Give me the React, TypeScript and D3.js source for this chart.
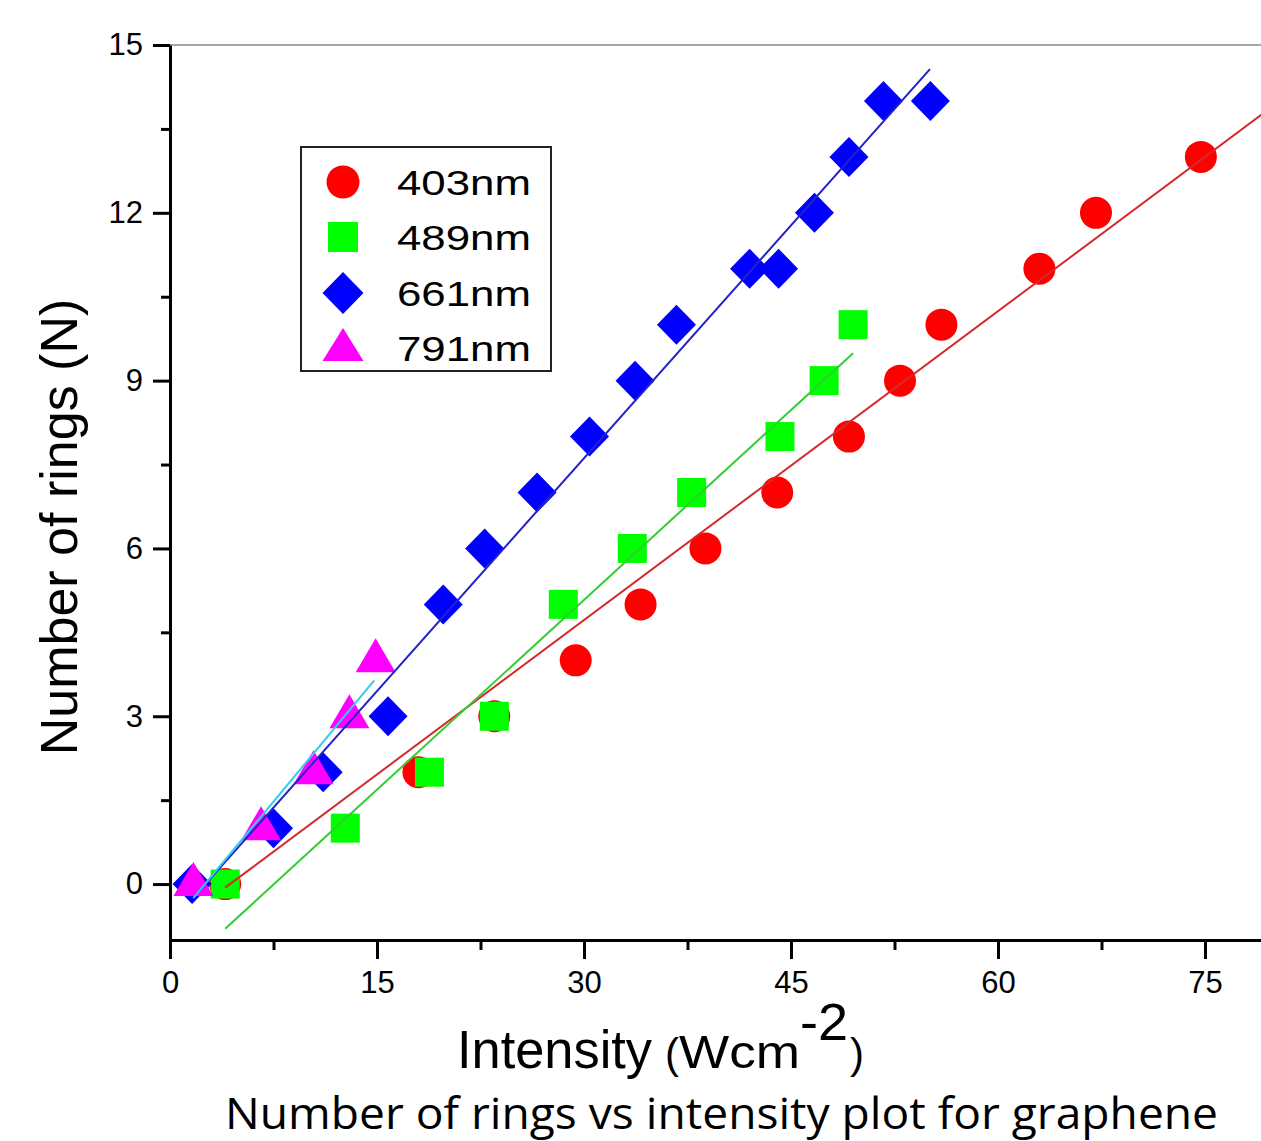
import React, { useEffect, useRef } from 'react';
import * as d3 from 'd3';

// intensity (W/cm^2) vs number of rings
const red403 = [
  [4.0, 0], [18.0, 2], [23.5, 3], [29.4, 4], [34.1, 5], [38.8, 6], [44.0, 7],
  [49.2, 8], [52.9, 9], [55.9, 10], [63.0, 11], [67.1, 12], [74.7, 13]
];
const green489 = [
  [4.0, 0], [12.7, 1], [18.8, 2], [23.5, 3], [28.5, 5], [33.5, 6], [37.8, 7],
  [44.2, 8], [47.4, 9], [49.5, 10]
];
const blue661 = [
  [1.6, 0], [7.5, 1], [11.1, 2], [15.8, 3], [19.8, 5], [22.8, 6], [26.6, 7],
  [30.4, 8], [33.7, 9], [36.7, 10], [42.0, 11], [44.1, 11], [46.7, 12],
  [49.2, 13], [51.7, 14], [55.1, 14]
];
const magenta791 = [[1.7, 0], [6.6, 1], [10.4, 2], [13.0, 3], [14.9, 4]];

// linear fit end points
const redFit = [[4.0, -0.064], [80, 13.92]];
const greenFit = [[4.0, -0.8], [49.5, 9.49]];
const blueFit = [[1.67, -0.25], [55.07, 14.57]];
const cyanFit = [[1.69, -0.25], [14.8, 3.64]];

const xTicks = [0, 15, 30, 45, 60, 75];
const xMinor = [7.5, 22.5, 37.5, 52.5, 67.5];
const yTicks = [0, 3, 6, 9, 12, 15];
const yMinor = [1.5, 4.5, 7.5, 10.5, 13.5];

const legendLabels = ['403nm', '489nm', '661nm', '791nm'];

const FONT = "'Liberation Sans', Arial, sans-serif";

const width = 1261;
const height = 1141;

const x = d3.scaleLinear().domain([0, 80]).range([170, 1274]);
const y = d3.scaleLinear().domain([-1, 15]).range([940, 45]);

const diamond = (cx, cy, w, h) =>
  `M${cx},${cy - h}L${cx + w},${cy}L${cx},${cy + h}L${cx - w},${cy}Z`;
const triangle = (cx, cy, w, up, down) =>
  `M${cx},${cy - up}L${cx + w},${cy + down}L${cx - w},${cy + down}Z`;

const line = d3.line().x(d => x(d[0])).y(d => y(d[1]));

const App = () => {
  const xAxisRef = useRef(null);
  const xMinorRef = useRef(null);
  const yAxisRef = useRef(null);
  const yMinorRef = useRef(null);

  useEffect(() => {
    const gx = d3.select(xAxisRef.current);
    gx.call(d3.axisBottom(x).tickValues(xTicks).tickSize(19).tickSizeOuter(0).tickPadding(12));
    gx.attr('font-size', 31).attr('font-family', FONT);
    gx.select('.domain').attr('stroke-width', 3);
    gx.selectAll('.tick line').attr('stroke-width', 3);

    const gxm = d3.select(xMinorRef.current);
    gxm.call(d3.axisBottom(x).tickValues(xMinor).tickSize(10).tickFormat(() => ''));
    gxm.select('.domain').remove();
    gxm.selectAll('.tick line').attr('stroke-width', 3);

    const gy = d3.select(yAxisRef.current);
    gy.call(d3.axisLeft(y).tickValues(yTicks).tickSize(17).tickSizeOuter(0).tickPadding(10));
    gy.attr('font-size', 31).attr('font-family', FONT);
    gy.select('.domain').attr('stroke-width', 3);
    gy.selectAll('.tick line').attr('stroke-width', 3);

    const gym = d3.select(yMinorRef.current);
    gym.call(d3.axisLeft(y).tickValues(yMinor).tickSize(9).tickFormat(() => ''));
    gym.select('.domain').remove();
    gym.selectAll('.tick line').attr('stroke-width', 3);
  }, []);

  const legendRows = [182, 237, 293, 348];

  return (
    <svg
      width={width}
      height={height}
      viewBox={`0 0 ${width} ${height}`}
      style={{ position: 'absolute', left: 0, top: 0, display: 'block' }}
    >
      <rect width={width} height={height} fill='white' />

      {/* top frame */}
      <line x1={x(0)} x2={width} y1={y(15)} y2={y(15)} stroke='#8a8a8a' strokeWidth={1.5} />

      {/* markers */}
      {red403.map((d, i) => (
        <circle key={`r-${i}`} cx={x(d[0])} cy={y(d[1])} r={16} fill='#ff0000' />
      ))}
      {green489.map((d, i) => (
        <rect key={`g-${i}`} x={x(d[0]) - 14.5} y={y(d[1]) - 14.5} width={29} height={29} fill='#00ff00' />
      ))}
      {blue661.map((d, i) => (
        <path key={`b-${i}`} d={diamond(x(d[0]), y(d[1]), 19.5, 20)} fill='#0000ff' />
      ))}
      {magenta791.map((d, i) => (
        <path key={`m-${i}`} d={triangle(x(d[0]), y(d[1]), 20, 22, 12)} fill='#ff00ff' />
      ))}

      {/* fits */}
      <path d={line(redFit)} stroke='#d42a2a' strokeWidth={2} fill='none' />
      <path d={line(greenFit)} stroke='#33cc33' strokeWidth={2} fill='none' />
      <path d={line(blueFit)} stroke='#2222cc' strokeWidth={2} fill='none' />
      <path d={line(cyanFit)} stroke='#33ccee' strokeWidth={2} fill='none' />

      {/* axes */}
      <g ref={xMinorRef} transform={`translate(0, ${y(-1)})`} />
      <g ref={xAxisRef} transform={`translate(0, ${y(-1)})`} />
      <g ref={yMinorRef} transform={`translate(${x(0)}, 0)`} />
      <g ref={yAxisRef} transform={`translate(${x(0)}, 0)`} />

      {/* legend */}
      <rect x={301} y={147} width={250} height={224} fill='white' stroke='#222' strokeWidth={2} />
      <circle cx={343} cy={legendRows[0]} r={16.5} fill='#ff0000' />
      <rect x={328} y={legendRows[1] - 15} width={30} height={30} fill='#00ff00' />
      <path d={diamond(343, legendRows[2], 20.5, 21)} fill='#0000ff' />
      <path d={triangle(343, legendRows[3], 20.5, 20, 13)} fill='#ff00ff' />
      {legendLabels.map((t, i) => (
        <text
          key={t}
          x={397}
          y={legendRows[i] + 13}
          fontFamily={FONT}
          fontSize={35}
          textLength={134}
          lengthAdjust='spacingAndGlyphs'
        >
          {t}
        </text>
      ))}

      {/* axis titles */}
      <text
        transform='translate(77, 527) rotate(-90)'
        textAnchor='middle'
        fontFamily={FONT}
        fontSize={52}
      >
        Number of rings (N)
      </text>
      <text x={457} y={1068} fontFamily={FONT} fontSize={54} textLength={195} lengthAdjust='spacingAndGlyphs'>
        Intensity
      </text>
      <text x={665} y={1068} fontFamily={FONT} fontSize={42}>(</text>
      <text x={679} y={1068} fontFamily={FONT} fontSize={46} textLength={121} lengthAdjust='spacingAndGlyphs'>
        Wcm
      </text>
      <text x={800} y={1040} fontFamily={FONT} fontSize={52} textLength={48} lengthAdjust='spacingAndGlyphs'>
        -2
      </text>
      <text x={850} y={1068} fontFamily={FONT} fontSize={42}>)</text>

      {/* caption */}
      <text
        x={225}
        y={1129}
        fontFamily="'Open Sans', 'Noto Sans', sans-serif"
        fontSize={44}
        textLength={993}
        lengthAdjust='spacingAndGlyphs'
      >
        Number of rings vs intensity plot for graphene
      </text>
    </svg>
  );
};

export default App;
